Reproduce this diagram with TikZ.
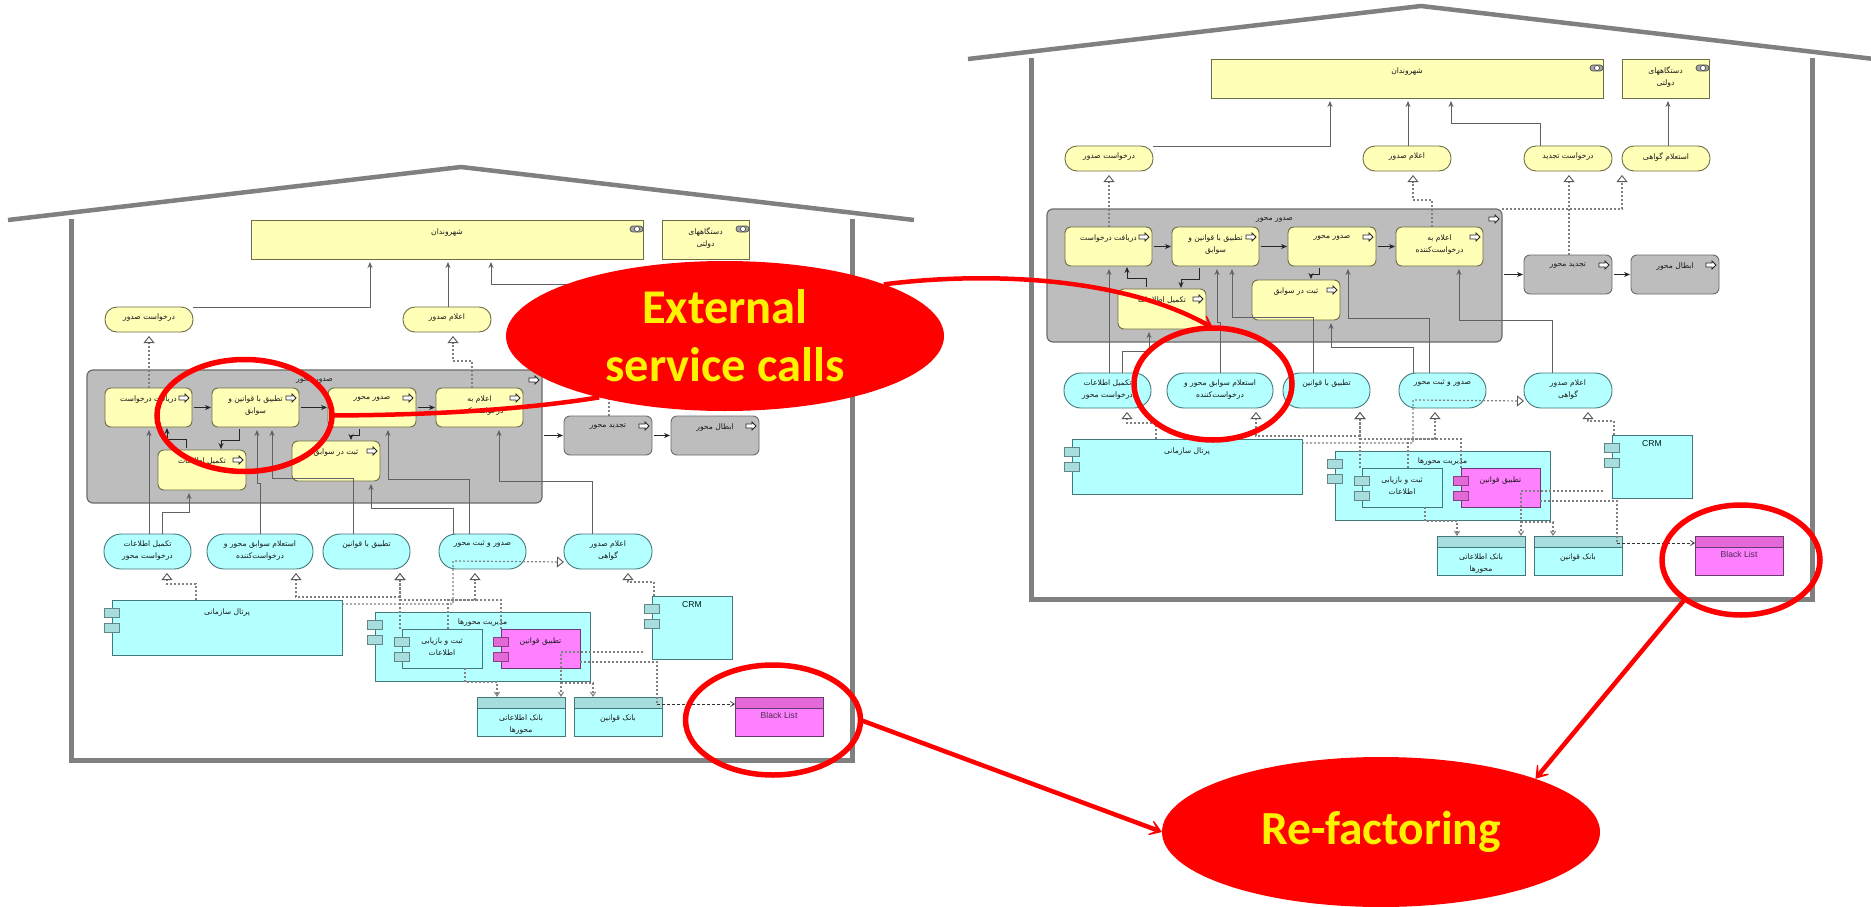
\documentclass[tikz,border=0pt]{standalone}
\usepackage{fontspec}
\usetikzlibrary{arrows.meta,shapes.geometric,calc}
\setmainfont{Liberation Sans}
\newfontfamily\arabicfont[Script=Arabic]{DejaVu Sans}
\newfontfamily\calloutfont{Carlito}
\TeXXeTstate=1
\definecolor{wallgray}{HTML}{808080}
\definecolor{actyellow}{HTML}{FFFFB8}
\definecolor{actline}{HTML}{6E6E45}
\definecolor{svccyan}{HTML}{B4FFFF}
\definecolor{svcline}{HTML}{44777A}
\definecolor{tabcyan}{HTML}{A6DEDE}
\definecolor{appmag}{HTML}{FF80FF}
\definecolor{tabmag}{HTML}{E468D8}
\definecolor{magline}{HTML}{6A3A70}
\definecolor{grpgray}{HTML}{BDBDBD}
\definecolor{grpline}{HTML}{6B6B6B}
\definecolor{connline}{HTML}{606066}
\definecolor{dotline}{HTML}{808080}
\tikzset{
  wall/.style={draw=wallgray,line width=5pt,line join=miter},
  roofline/.style={draw=wallgray,line width=4.5pt,line join=miter},
  base/.style={inner sep=0pt,outer sep=0pt,line width=0.9pt},
  actor/.style={base,draw=actline,fill=actyellow},
  yoval/.style={base,draw=actline,fill=actyellow,rounded corners=12pt},
  coval/.style={base,draw=svcline,fill=svccyan,rounded corners=17pt},
  yproc/.style={base,draw=actline,fill=actyellow,rounded corners=6pt},
  gproc/.style={base,draw=grpline,fill=grpgray,rounded corners=6pt},
  grpbox/.style={base,draw=grpline,line width=1.2pt,fill=grpgray,rounded corners=6pt},
  cbox/.style={base,draw=svcline,fill=svccyan},
  mbox/.style={base,draw=magline,fill=appmag},
  lbl/.style={inner sep=0pt,outer sep=0pt,align=center,text=black!90,
     font=\arabicfont\fontsize{7.6}{11.5}\selectfont},
  latin/.style={inner sep=0pt,outer sep=0pt,align=center,font=\fontsize{8.6}{11.5}\selectfont},
  trig/.style={draw=black!85,line width=0.9pt,shorten >=1pt,shorten <=2pt,-{Stealth[length=6pt,width=5pt]}},
  serv/.style={draw=connline,line width=1pt,shorten >=3pt,-{Stealth[length=6pt,width=5pt]}},
  real/.style={draw=dotline,line width=1.2pt,dash pattern=on 2pt off 2pt,shorten >=4pt,
     -{Triangle[open,length=7pt,width=11pt,fill=white,line width=0.9pt,color=black!65]}},
  realside/.style={draw=dotline,line width=1.2pt,dash pattern=on 2pt off 2pt,
     -{Triangle[open,length=7pt,width=11pt,fill=white,line width=0.9pt,color=black!65]}},
  acc/.style={draw=dotline,line width=1.1pt,dash pattern=on 2pt off 2pt,
     -{Straight Barb[length=4pt,width=5pt]}},
  accthin/.style={draw=black!80,line width=0.7pt,dash pattern=on 3pt off 2pt,
     -{Straight Barb[length=4pt,width=5pt]}},
  icon/.style={draw=black!85,fill=white,line width=0.8pt,line join=miter},
  callout/.style={ellipse,fill=red,inner sep=0pt,outer sep=0pt,minimum width=438pt,minimum height=150pt,
     text=yellow,align=center,font=\calloutfont\bfseries\fontsize{48.5}{58}\selectfont},
  ring/.style={ellipse,draw=red,line width=5.5pt,inner sep=0pt,outer sep=0pt},
  redline/.style={draw=red,line width=4.5pt},
  redarrow/.style={draw=red,line width=4.5pt,-{Stealth[length=18pt,width=24pt,inset=13pt]}},
}
\newcommand\fa[1]{\beginR #1\endR}
% style, name, x1, y1, x2, y2, label offset, text
\newcommand\bx[8]{%
  \pgfmathsetmacro\bw{#5-#3}\pgfmathsetmacro\bh{#6-#4}%
  \node[#1,minimum width=\bw pt,minimum height=\bh pt] (#2) at ({(#3+#5)/2},{(#4+#6)/2}) {};
  \node[lbl,anchor=north] (#2-t) at ([yshift=-#7 pt]#2.north) {#8};
}
\newcommand\prcicon[1]{\draw[icon,shift={(#1.north east)}] (-13,8) -- (-7,8) -- (-7,6) -- (-3,10) -- (-7,14) -- (-7,12) -- (-13,12) -- cycle;}
\newcommand\acticon[1]{\draw[draw=black!70,fill=black!35,rounded corners=3pt,line width=0.7pt,shift={(#1.north east)}] (-13,6) rectangle (0,12);
  \draw[draw=black!70,fill=white,line width=0.7pt,shift={(#1.north east)}] (-6,9) circle (2.6);}
\newcommand\comptabs[2]{\draw[draw=#2!60!black,fill=#2,line width=0.9pt,shift={(#1.north west)}] (-8,8) rectangle (7,17) (-8,23) rectangle (7,32);}
\newcommand\dbhead[3]{\draw[draw=#3,fill=#2,line width=0.9pt,shift={(#1.north west)}] (0,0) rectangle (88,11);}
\newcommand\housediagram{%
  % house
  \draw[roofline] (8,220) -- (461,167) -- (914,220);
  \draw[wall] (71,219) -- (71,760) -- (852,760) -- (852,219);
  % actors
  \bx{actor}{cit}{251}{220}{643}{259}{9}{\fa{شهروندان}}
  \bx{actor}{gov}{662}{220}{749}{259}{8}{\fa{دستگاههای}\\\fa{دولتی}}
  \acticon{cit}\acticon{gov}
  % business services
  \bx{yoval}{oReq}{105}{307}{193}{332}{7}{\fa{درخواست صدور}}
  \bx{yoval}{oAnn}{403}{307}{491}{332}{7}{\fa{اعلام صدور}}
  \bx{yoval}{oRen}{564}{307}{652}{332}{7}{\fa{درخواست تجدید}}
  \bx{yoval}{oCert}{662}{307}{750}{332}{7}{\fa{استعلام گواهی}}
  % group and processes
  \bx{grpbox}{grp}{87}{370}{542}{503}{8}{\fa{صدور محور}}
  \prcicon{grp}
  \bx{yproc}{pA}{105}{388}{192}{427}{8}{\fa{دریافت درخواست}}
  \bx{yproc}{pB}{212}{388}{299}{427}{8}{\fa{تطبیق با قوانین و}\\\fa{سوابق}}
  \bx{yproc}{pC}{328}{388}{416}{427}{8}{\fa{صدور محور}}
  \bx{yproc}{pD}{436}{388}{523}{427}{8}{\fa{اعلام به}\\\fa{درخواست‌کننده}}
  \bx{yproc}{pF}{158}{450}{246}{490}{8}{\fa{تکمیل اطلاعات}}
  \bx{yproc}{pR}{292}{441}{380}{481}{8}{\fa{ثبت در سوابق}}
  \bx{gproc}{pRen}{564}{416}{652}{455}{8}{\fa{تجدید محور}}
  \bx{gproc}{pVoid}{671}{416}{759}{455}{8}{\fa{ابطال محور}}
  \prcicon{pA}\prcicon{pB}\prcicon{pC}\prcicon{pD}\prcicon{pF}\prcicon{pR}\prcicon{pRen}\prcicon{pVoid}
  % application services
  \bx{coval}{oF}{104}{534}{191}{569}{7}{\fa{تکمیل اطلاعات}\\\fa{درخواست محور}}
  \bx{coval}{oH}{207}{534}{313}{569}{7}{\fa{استعلام سوابق محور و}\\\fa{درخواست‌کننده}}
  \bx{coval}{oL}{323}{534}{410}{569}{7}{\fa{تطبیق با قوانین}}
  \bx{coval}{oI}{439}{534}{526}{569}{7}{\fa{صدور و ثبت محور}}
  \bx{coval}{oG}{564}{534}{652}{569}{7}{\fa{اعلام صدور}\\\fa{گواهی}}
  % components
  \bx{cbox}{portal}{112}{600}{342}{655}{9}{\fa{پرتال سازمانی}}
  \comptabs{portal}{tabcyan}
  \bx{cbox}{mgmt}{375}{612}{590}{681}{7}{\fa{مدیریت محورها}}
  \comptabs{mgmt}{tabcyan}
  \bx{cbox}{st}{402}{629}{482}{668}{9}{\fa{ثبت و بازیابی}\\\fa{اطلاعات}}
  \comptabs{st}{tabcyan}
  \bx{mbox}{mg}{501}{629}{580}{668}{9}{\fa{تطبیق قوانین}}
  \comptabs{mg}{tabmag}
  \node[cbox,minimum width=80pt,minimum height=63pt] (crm) at (692,627.5) {};
  \node[latin,anchor=north,text=black!80!teal] (crm-t) at ([yshift=-5pt]crm.north) {CRM};
  \comptabs{crm}{tabcyan}
  % data objects
  \bx{cbox}{db1}{477}{697}{565}{736}{18}{\fa{بانک اطلاعاتی}\\\fa{محورها}}
  \dbhead{db1}{tabcyan}{svcline}
  \bx{cbox}{db2}{574}{697}{662}{736}{18}{\fa{بانک قوانین}}
  \dbhead{db2}{tabcyan}{svcline}
  \node[mbox,minimum width=88pt,minimum height=39pt] (bl) at (779,716.5) {};
  \node[latin,anchor=north,text=magline!70!black] (bl-t) at ([yshift=-15pt]bl.north) {Black List};
  \dbhead{bl}{tabmag}{magline}
  % free junctions
  \coordinate (j1) at (561,683);
  \coordinate (j2) at (657,704);
  % serving, to the actors
  \draw[serv] (oReq.north east) -| (370,0 |- cit.south);
  \draw[serv] (448,0 |- oAnn.north) -- (448,0 |- cit.south);
  \draw[serv] (580,0 |- oRen.north) |- (491,284) -- (491,0 |- cit.south);
  \draw[serv] (708,0 |- oCert.north) -- (708,0 |- gov.south);
  % triggering
  \draw[trig] (pA.east) -- (pB.west);
  \draw[trig] (pB.east) -- (pC.west);
  \draw[trig] (pC.east) -- (pD.west);
  \draw[trig] (grp.east |- pRen.west) -- (pRen.west);
  \draw[trig] (pRen.east) -- (pVoid.west);
  \draw[trig] (239,0 |- pB.south) |- (221,440) -- (221,0 |- pF.north);
  \draw[trig] (186,0 |- pF.north) |- (167,439) -- (167,0 |- pA.south);
  \draw[trig] (359,0 |- pC.south) |- (351,435) -- (351,0 |- pR.north);
  % serving, to the processes
  \draw[serv] (149,0 |- oF.north) -- (149,0 |- pA.south);
  \draw[serv] (162,0 |- oF.north) |- (189,512) -- (189,0 |- pF.south);
  \draw[serv] (260,0 |- oH.north) -- (260,483) -- (257,483) -- (257,0 |- pB.south);
  \draw[serv] (353,0 |- oL.north) |- (272,478) -- (272,0 |- pB.south);
  \draw[serv] (453,0 |- oI.north) |- (371,508) -- (371,0 |- pR.south);
  \draw[serv] (469,0 |- oI.north) |- (388,479) -- (388,0 |- pC.south);
  \draw[serv] (592,0 |- oG.north) |- (499,481) -- (499,0 |- pD.south);
  % realisation
  \draw[real] (149,0 |- pA.north) -- (149,0 |- oReq.south);
  \draw[real] (472,0 |- pD.north) |- (453,361) -- (453,0 |- oAnn.south);
  \draw[real] (609,0 |- pRen.north) -- (609,0 |- oRen.south);
  \draw[real] (grp.north east) -| (662,0 |- oCert.south);
  \draw[real] (196,0 |- portal.north) |- (167,584) -- (167,0 |- oF.south);
  \draw[real] (400,0 |- st.north) -- (400,0 |- oL.south);
  \draw[real] (400,0 |- st.north) |- (296,597) -- (296,0 |- oH.south);
  \draw[real] (501,0 |- mg.north) |- (400,600) -- (400,0 |- oL.south);
  \draw[real] (448,0 |- st.north) |- (475,600) -- (475,0 |- oI.south);
  \draw[realside] (portal.east |- 0,604) -| (453,561) -- ([yshift=-10.5pt]oG.west);
  \draw[real] (654,0 |- crm.north) |- (628,582) -- (628,0 |- oG.south);
  % access
  \draw[acc] (465,0 |- st.south) |- (497,682) -- (497,0 |- db1.north);
  \draw[acc,shorten <=9pt] (crm.west |- 0,652) -| (561,0 |- db1.north);
  \draw[acc] (j1) -| (593,0 |- db2.north);
  \draw[dotline,line width=1.1pt,dash pattern=on 2pt off 2pt] (mg.east |- 0,662) -| (j2);
  \draw[accthin] (j2) -- (bl.west |- j2);
}
\begin{document}
\begin{tikzpicture}[x=1pt,y=-1pt]
\useasboundingbox (0,0) rectangle (1871,907);
\fill[white] (0,0) rectangle (1871,907);
\begin{scope}[name prefix=l-]
  \housediagram
\end{scope}
\begin{scope}[shift={(960,-161)},name prefix=r-]
  \housediagram
\end{scope}
% rings
\node[ring,minimum width=175pt,minimum height=112pt] (ringA) at (244.5,415.5) {};
\node[ring,minimum width=175pt,minimum height=110pt] (ringB) at (773,720) {};
\node[ring,minimum width=158pt,minimum height=112pt] (ringC) at (1213,384) {};
\node[ring,minimum width=158pt,minimum height=110pt] (ringD) at (1741,560) {};
\node[callout] (ext) at (725,336) {External\\service calls};
\node[callout,font=\calloutfont\bfseries\fontsize{47.5}{58}\selectfont] (ref) at (1381,832) {Re-factoring};
\draw[redline] (ringA.east) .. controls (430,415) and (520,410) .. (ext.206);
\draw[redarrow] (ext.18) .. controls (980,272) and (1120,275) .. (ringC.north);
\draw[redarrow] (ringB.east) -- (ref.west);
\draw[redarrow] (ringD.south west) -- (ref.19);
\end{tikzpicture}
\end{document}
